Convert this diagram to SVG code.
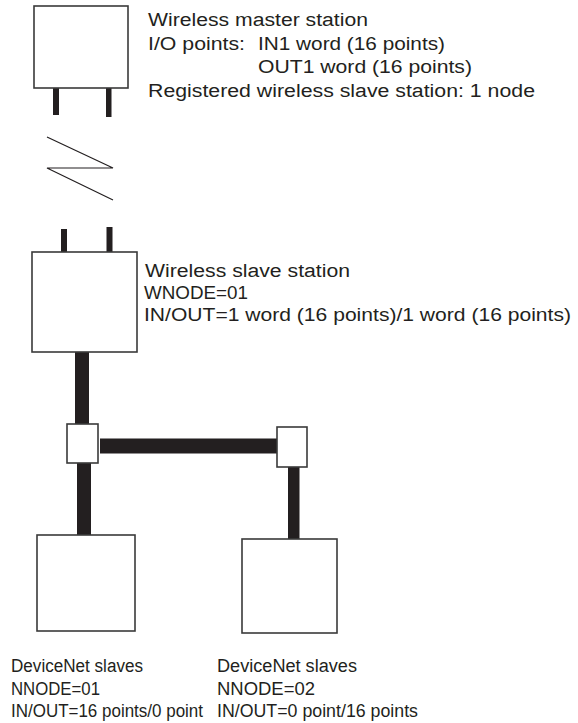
<svg xmlns="http://www.w3.org/2000/svg" width="578" height="723" viewBox="0 0 578 723">
<style>
.box{fill:#fff;stroke:#3a3a3a;stroke-width:1.6}
.bar{fill:#231f20}
.bolt{fill:none;stroke:#231f20;stroke-width:1.2}
text{font-family:"Liberation Sans",Arial,sans-serif;font-size:18px;fill:#231f20}
</style>
<rect width="578" height="723" fill="#fff"/>
<g id="connectors">
<rect class="bar" x="53" y="88" width="6" height="27"/>
<rect class="bar" x="106" y="88" width="5.5" height="29"/>
<polyline class="bolt" points="47,137 113,168 47,168 113,200"/>
<rect class="bar" x="61" y="229" width="6" height="23"/>
<rect class="bar" x="106.5" y="227" width="6" height="25"/>
<rect class="bar" x="75" y="352" width="14" height="72"/>
<rect class="bar" x="100" y="438.5" width="177" height="15"/>
<rect class="bar" x="77" y="463" width="14" height="72"/>
<rect class="bar" x="288" y="467" width="11.5" height="72"/>
</g>
<g id="master">
<rect class="box" x="34" y="6" width="94" height="82"/>
<text x="148" y="26" textLength="220" lengthAdjust="spacingAndGlyphs">Wireless master station</text>
<text x="148" y="49.5" textLength="97" lengthAdjust="spacingAndGlyphs">I/O points:</text>
<text x="258" y="49.5" textLength="187" lengthAdjust="spacingAndGlyphs">IN1 word (16 points)</text>
<text x="258" y="73" textLength="214" lengthAdjust="spacingAndGlyphs">OUT1 word (16 points)</text>
<text x="148" y="96.5" textLength="387" lengthAdjust="spacingAndGlyphs">Registered wireless slave station: 1 node</text>
</g>
<g id="slave">
<rect class="box" x="32" y="252" width="105" height="100"/>
<text x="145" y="276.5" textLength="205" lengthAdjust="spacingAndGlyphs">Wireless slave station</text>
<text x="144" y="298.5" textLength="104" lengthAdjust="spacingAndGlyphs">WNODE=01</text>
<text x="144" y="320.5" textLength="427" lengthAdjust="spacingAndGlyphs">IN/OUT=1 word (16 points)/1 word (16 points)</text>
</g>
<g id="tap1"><rect class="box" x="67" y="424" width="31" height="39"/></g>
<g id="tap2"><rect class="box" x="277" y="427" width="30" height="40"/></g>
<g id="dn1">
<rect class="box" x="37" y="535" width="98" height="96"/>
<text x="11" y="672" textLength="132" lengthAdjust="spacingAndGlyphs">DeviceNet slaves</text>
<text x="11" y="695" textLength="89" lengthAdjust="spacingAndGlyphs">NNODE=01</text>
<text x="11" y="717" textLength="192" lengthAdjust="spacingAndGlyphs">IN/OUT=16 points/0 point</text>
</g>
<g id="dn2">
<rect class="box" x="242" y="539" width="95" height="94"/>
<text x="217" y="672" textLength="140" lengthAdjust="spacingAndGlyphs">DeviceNet slaves</text>
<text x="217" y="695" textLength="98" lengthAdjust="spacingAndGlyphs">NNODE=02</text>
<text x="217" y="717" textLength="201" lengthAdjust="spacingAndGlyphs">IN/OUT=0 point/16 points</text>
</g>
</svg>
